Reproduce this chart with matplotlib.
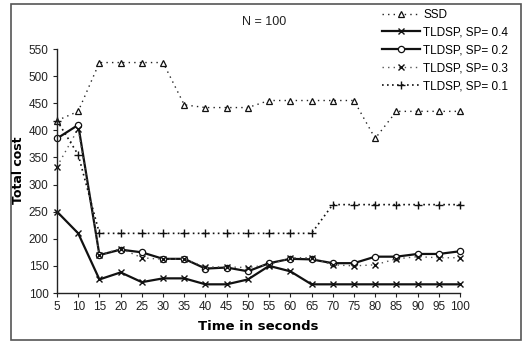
import matplotlib
matplotlib.use("Agg")
import matplotlib.pyplot as plt
from matplotlib.patches import Rectangle
from matplotlib import font_manager

names = {f.name for f in font_manager.fontManager.ttflist}
fam = ['Liberation Sans Narrow', 'DejaVu Sans'] if 'Liberation Sans Narrow' in names else ['Liberation Sans', 'DejaVu Sans']
plt.rcParams['font.family'] = fam

time = [5, 10, 15, 20, 25, 30, 35, 40, 45, 50, 55, 60, 65, 70, 75, 80, 85, 90, 95, 100]
ssd = [418, 435, 525, 525, 525, 525, 447, 442, 442, 442, 455, 455, 455, 455, 455, 385, 435, 435, 435, 435]
sp04 = [250, 210, 125, 138, 120, 127, 127, 116, 116, 125, 150, 140, 116, 116, 116, 116, 116, 116, 116, 116]
sp02 = [385, 410, 170, 180, 175, 163, 163, 145, 147, 140, 155, 163, 162, 155, 155, 167, 167, 172, 172, 177]
sp03 = [333, 403, 170, 182, 165, 162, 163, 148, 148, 147, 152, 165, 165, 152, 150, 152, 163, 167, 165, 165]
sp01 = [418, 355, 210, 210, 210, 210, 210, 210, 210, 210, 210, 210, 210, 263, 263, 263, 263, 263, 263, 263]
labels = ['SSD', 'TLDSP, SP= 0.4', 'TLDSP, SP= 0.2', 'TLDSP, SP= 0.3', 'TLDSP, SP= 0.1']

W, H = 523, 341
fig = plt.figure(figsize=(W / 100, H / 100), dpi=100)
ax = fig.add_axes([57 / W, 1 - 293 / H, (460 - 57) / W, (293 - 49) / H])

fig.patches.append(Rectangle((11 / W, 1 - 340 / H), (521 - 11) / W, (340 - 4) / H,
                             transform=fig.transFigure, fill=False, edgecolor='#555555', lw=1.2))

ax.plot(time, ssd, linestyle=(0, (1, 3)), color='#222222', lw=1.0, marker='^', ms=4.5,
        mfc='white', mec='#111111', mew=0.9, label=labels[0])
ax.plot(time, sp04, linestyle='-', color='#111111', lw=1.6, marker='x', ms=5,
        mec='#111111', mew=1.0, label=labels[1])
ax.plot(time, sp02, linestyle='-', color='#111111', lw=1.6, marker='o', ms=4.5,
        mfc='white', mec='#111111', mew=0.9, label=labels[2])
ax.plot(time, sp03, linestyle=(0, (1, 3)), color='#555555', lw=1.0, marker='x', ms=5,
        mec='#111111', mew=1.0, label=labels[3])
ax.plot(time, sp01, linestyle=(0, (1, 2)), color='#111111', lw=1.2, marker='+', ms=6,
        mec='#111111', mew=1.0, label=labels[4])

ax.set_xlim(5, 100)
ax.set_ylim(100, 550)
ax.set_xticks(time)
ax.set_yticks(range(100, 551, 50))
ax.tick_params(axis='both', labelsize=8.5, length=3, width=0.8, colors='#222222', pad=3)
for s in ['top', 'right']:
    ax.spines[s].set_visible(False)
for s in ['left', 'bottom']:
    ax.spines[s].set_color('#222222')
    ax.spines[s].set_linewidth(1.0)
for l in ax.lines:
    l.set_clip_on(False)

fig.text(18 / W, 1 - 170 / H, 'Total cost', rotation=90, ha='center', va='center',
         fontsize=9, fontweight='bold', family=['DejaVu Sans'])
fig.text(258 / W, 1 - 326 / H, 'Time in seconds', ha='center', va='center',
         fontsize=9.5, fontweight='bold', family=['DejaVu Sans'])
fig.text(264 / W, 1 - 22 / H, 'N = 100', ha='center', va='center', fontsize=9, color='#222222')

leg = ax.legend(loc='upper left', bbox_to_anchor=(377 / W, 1 - 4 / H), bbox_transform=fig.transFigure,
                frameon=False, fontsize=8.5, handlelength=3.2, handletextpad=0.3,
                labelspacing=0.5, borderaxespad=0)

fig.savefig('out.png', dpi=100)
